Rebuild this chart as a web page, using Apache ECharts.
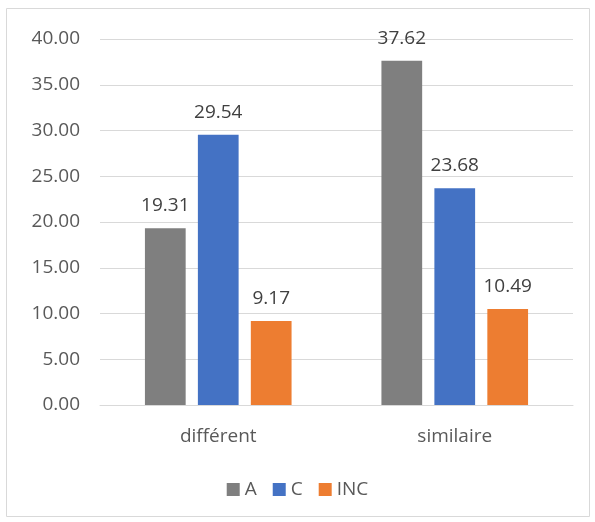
<!DOCTYPE html>
<html>
<head>
<meta charset="utf-8">
<script src="https://cdn.jsdelivr.net/npm/echarts@6/dist/echarts.min.js"></script>
<style>
  html, body { margin: 0; padding: 0; background: #fff; }
  #chart { width: 595px; height: 522px; }
</style>
</head>
<body>
<div id="chart"></div>
<script>
var categories = ['différent', 'similaire'];
var seriesNames = ['A', 'C', 'INC'];
var valuesA = [19.31, 37.62];
var valuesC = [29.54, 23.68];
var valuesINC = [9.17, 10.49];
var colors = ['#7f7f7f', '#4472c4', '#ed7d31'];

var chart = echarts.init(document.getElementById('chart'));

function makeSeries(name, data, color) {
  return {
    name: name,
    type: 'bar',
    data: data,
    barGap: '30%',
    barCategoryGap: '38%',
    itemStyle: { color: color },
    label: {
      show: true,
      position: 'top',
      distance: 13,
      color: '#404040',
      fontSize: 19,
      fontFamily: 'Open Sans',
      formatter: function (p) { return p.value.toFixed(2); }
    }
  };
}

var option = {
  animation: false,
  textStyle: { fontFamily: 'Open Sans' },
  graphic: [{
    type: 'rect',
    shape: { x: 6.5, y: 8.5, width: 583, height: 508 },
    style: { fill: 'none', stroke: '#d9d9d9', lineWidth: 1 },
    silent: true
  }],
  grid: { left: 100, right: 22, top: 39, bottom: 117 },
  legend: {
    bottom: 18,
    left: 'center',
    icon: 'rect',
    itemWidth: 13,
    itemHeight: 13,
    itemGap: 16,
    textStyle: { color: '#595959', fontSize: 19 },
    data: seriesNames
  },
  xAxis: {
    type: 'category',
    data: categories,
    axisLine: { lineStyle: { color: '#d9d9d9', width: 1 } },
    axisTick: { show: false },
    axisLabel: { color: '#595959', fontSize: 19, margin: 22 }
  },
  yAxis: {
    type: 'value',
    min: 0,
    max: 40,
    interval: 5,
    axisLine: { show: false },
    axisTick: { show: false },
    splitLine: { lineStyle: { color: '#d9d9d9', width: 1 } },
    axisLabel: {
      color: '#595959',
      fontSize: 19,
      margin: 20,
      formatter: function (v) { return v.toFixed(2); }
    }
  },
  series: [
    makeSeries(seriesNames[0], valuesA, colors[0]),
    makeSeries(seriesNames[1], valuesC, colors[1]),
    makeSeries(seriesNames[2], valuesINC, colors[2])
  ]
};

chart.setOption(option);
</script>
</body>
</html>
